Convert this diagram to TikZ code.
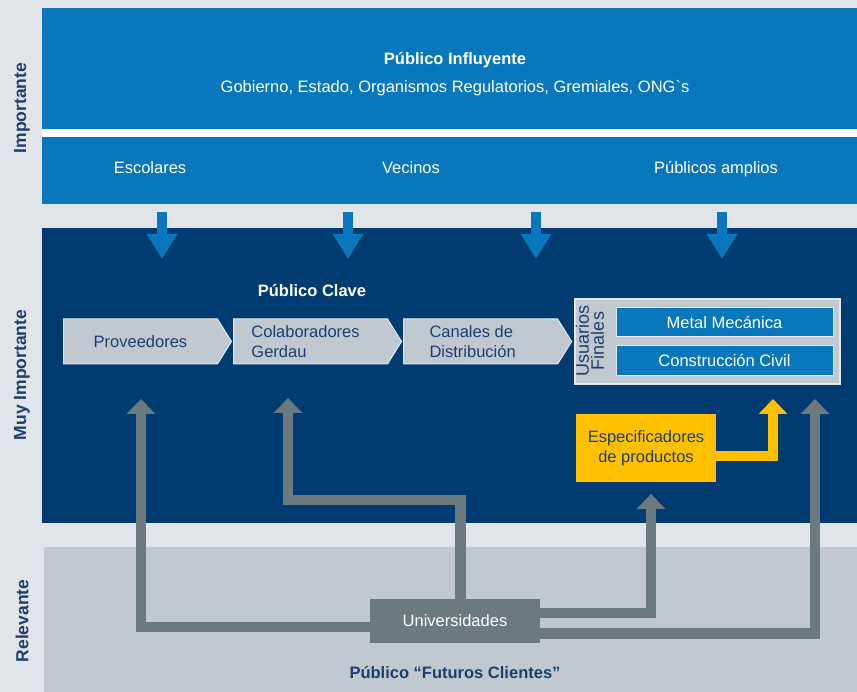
\documentclass[tikz,border=0pt]{standalone}
\usepackage{fontspec}
\newfontfamily\arial{Liberation Sans}
\usetikzlibrary{positioning,shapes.symbols,arrows.meta}
\definecolor{bgray}{HTML}{E1E5E9}
\definecolor{gblue}{HTML}{0877BC}
\definecolor{navy}{HTML}{003B71}
\definecolor{cgray}{HTML}{C0C8D0}
\definecolor{cline}{HTML}{E4E8EB}
\definecolor{agray}{HTML}{6B7A7F}
\definecolor{yel}{HTML}{FFC000}
\definecolor{ntext}{HTML}{1D3F6E}

\begin{document}
\begin{tikzpicture}[x=1pt,y=1pt,
    every node/.style={font=\arial\fontsize{16.5}{20.5}\selectfont},
    titl/.style={font=\arial\bfseries\fontsize{16.5}{20.5}\selectfont},
    side/.style={font=\arial\bfseries\fontsize{17.5}{21}\selectfont, text=ntext, rotate=90},
    band/.style={fill=#1, inner sep=0pt, anchor=north west},
    chev/.style={shape=signal, signal to=east, signal from=nowhere, signal pointer angle=116,
        fill=cgray, draw=cline, line width=1pt, minimum width=168pt, minimum height=45pt,
        text=ntext, align=left, inner sep=2pt},
    inbox/.style={fill=gblue, draw=cline, line width=1pt, text=white, minimum width=217pt},
    bluearr/.style={draw=gblue, line width=10pt, -{Triangle[width=29pt,length=25pt]}},
    grayarr/.style={draw=agray, line width=10.5pt, line join=miter, -{Triangle[width=28pt,length=15pt]}},
    yelarr/.style={draw=yel, line width=10pt, line join=miter, -{Triangle[width=28pt,length=15pt]}}]

    \fill[bgray] (0,0) rectangle (857,-692);
    \useasboundingbox (0,0) rectangle (857,-692);
    \fill[white] (42,-128) rectangle (857,-138);

    % levels
    \node[band=gblue, minimum width=815pt, minimum height=121pt] (infl) at (42,-8) {};
    \node[band=gblue, minimum width=815pt, minimum height=67pt] (amplio) at (42,-137) {};
    \node[band=navy, minimum width=815pt, minimum height=295pt] (clave) at (42,-228) {};
    \node[band=cgray, minimum width=813pt, minimum height=145pt] (futuro) at (44,-547) {};

    \node[side] (limp) at (22,-108) {Importante};
    \node[side] (lmuy) at (22,-375) {Muy Importante};
    \node[side] (lrel) at (22,-621) {Relevante};

    \node[titl, white] (tinfl) at (455,-60) {Público Influyente};
    \node[white] (tgob) at (455,-88) {Gobierno, Estado, Organismos Regulatorios, Gremiales, ONG`s};
    \node[white, anchor=base] (tesc) at (150,-174) {Escolares};
    \node[white, anchor=base] (tvec) at (411,-174) {Vecinos};
    \node[white, anchor=base] (tamp) at (716,-174) {Públicos amplios};

    \foreach \x [count=\i] in {162,348,536,722}
        {
            \coordinate (d\i) at (\x,-212);
            \coordinate (e\i) at (\x,-259);
            \draw[bluearr] (d\i) -- (e\i);
        }

    % publico clave
    \node[titl, white] (tclave) at (312,-291) {Público Clave};
    \node[chev, anchor=west] (prov) at (63,-341.5) {Proveedores};
    \node[chev, right=1pt of prov] (colab) {Colaboradores\hspace*{10pt}\\Gerdau};
    \node[chev, right=1pt of colab] (canal) {Canales de\\Distribución\hspace*{16pt}};

    \node[fill=cgray, draw=cline, line width=1.5pt, minimum width=265pt, minimum height=85pt] (usu) at (707.5,-341.5) {};
    \node[rotate=90, text=ntext, align=center, inner sep=0pt,
        font=\arial\fontsize{18}{15}\selectfont] (tusu) at (590,-341) {Usuarios\\Finales};
    \node[inbox, minimum height=29pt] (metal) at (724.5,-322.5) {Metal Mecánica};
    \node[inbox, minimum height=30pt] (civil) at (724.5,-361) {Construcción Civil};

    \node[fill=yel, text=ntext, align=center, minimum width=140pt, minimum height=68pt] (spec) at (646,-448) {Especificadores\\de productos};
    \coordinate (y1) at (773,-399);
    \draw[yelarr] ([yshift=-8pt]spec.east) -| (y1);

    % universidades
    \coordinate (g1) at (141,-399);
    \coordinate (g2) at (288,-398);
    \coordinate (g3) at (651,-494);
    \coordinate (g4) at (815,-399);
    \draw[grayarr] (455,-627) -| (g1);
    \draw[grayarr] (460.5,-621) |- ([yshift=-102pt]g2) -- (g2);
    \draw[grayarr] (455,-613) -| (g3);
    \draw[grayarr] (455,-633.5) -| (g4);
    \node[fill=agray, text=white, minimum width=170pt, minimum height=44pt] (uni) at (455,-621) {Universidades};

    \node[titl, text=ntext] (tfut) at (455,-673) {Público “Futuros Clientes”};
\end{tikzpicture}
\end{document}
